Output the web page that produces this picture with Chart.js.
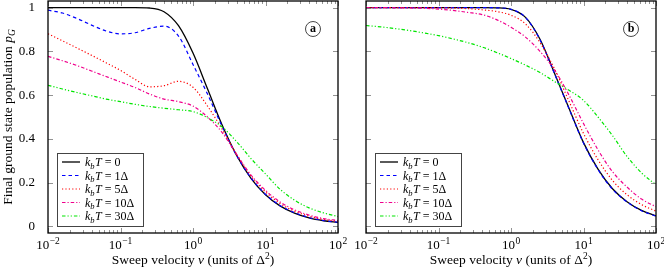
<!DOCTYPE html>
<html>
<head>
<meta charset="utf-8">
<script src="https://cdn.jsdelivr.net/npm/chart.js@4.4.1/dist/chart.umd.min.js"></script>
<style>
  body { margin: 0; background: #fff; }
  #wrap { position: relative; width: 664px; height: 270px; }
  .panel { position: absolute; top: 0; }
</style>
</head>
<body>
<div id="wrap">
  <canvas id="graficoA" class="panel" style="left:0" width="352" height="270"></canvas>
  <canvas id="graficoB" class="panel" style="left:342px" width="322" height="270"></canvas>
</div>
<script>
// velocidad de barrido v (unidades de Delta^2), eje logaritmico
const velocidades = [0.01, 0.01585, 0.02512, 0.03981, 0.0631, 0.1, 0.1585, 0.2512, 0.3981, 0.631,
    1, 1.585, 2.512, 3.981, 6.31, 10, 15.85, 25.12, 39.81, 63.1, 100];

// panel (a)
const a_T0  = [1, 1, 1, 1, 1, 1, 1, 0.998, 0.981, 0.917, 0.792, 0.629, 0.465, 0.326, 0.22, 0.145, 0.094, 0.061, 0.039, 0.026, 0.018];
const a_T1  = [0.988, 0.975, 0.95, 0.92, 0.893, 0.88, 0.885, 0.905, 0.915, 0.87, 0.74, 0.605, 0.458, 0.325, 0.222, 0.147, 0.096, 0.063, 0.041, 0.027, 0.019];
const a_T5  = [0.88, 0.848, 0.815, 0.782, 0.748, 0.713, 0.672, 0.638, 0.643, 0.663, 0.636, 0.55, 0.445, 0.33, 0.23, 0.158, 0.105, 0.07, 0.047, 0.032, 0.024];
const a_T10 = [0.777, 0.757, 0.735, 0.71, 0.685, 0.66, 0.635, 0.605, 0.582, 0.57, 0.55, 0.5, 0.43, 0.33, 0.235, 0.165, 0.112, 0.076, 0.052, 0.036, 0.027];
const a_T30 = [0.645, 0.628, 0.612, 0.597, 0.582, 0.57, 0.558, 0.548, 0.54, 0.533, 0.525, 0.497, 0.455, 0.388, 0.31, 0.24, 0.17, 0.12, 0.085, 0.062, 0.045];

// panel (b)
const b_T0  = [1, 1, 1, 1, 1, 1, 1, 1, 1, 0.999, 0.992, 0.955, 0.855, 0.7, 0.54, 0.383, 0.262, 0.172, 0.113, 0.073, 0.048];
const b_T1  = [1, 1, 1, 1, 1, 1, 1, 1, 1, 0.999, 0.992, 0.955, 0.853, 0.698, 0.538, 0.381, 0.26, 0.17, 0.112, 0.072, 0.047];
const b_T5  = [1, 1, 1, 1, 1, 0.999, 0.998, 0.995, 0.99, 0.982, 0.965, 0.925, 0.84, 0.72, 0.572, 0.425, 0.305, 0.21, 0.145, 0.1, 0.07];
const b_T10 = [1, 1, 0.999, 0.998, 0.997, 0.993, 0.987, 0.978, 0.968, 0.945, 0.91, 0.865, 0.8, 0.715, 0.6, 0.47, 0.35, 0.25, 0.18, 0.125, 0.09];
const b_T30 = [0.918, 0.912, 0.904, 0.895, 0.884, 0.872, 0.857, 0.84, 0.82, 0.795, 0.767, 0.737, 0.703, 0.662, 0.622, 0.576, 0.5, 0.415, 0.32, 0.245, 0.19];

const leyendas = ['0', '1Δ', '5Δ', '10Δ', '30Δ'];
const xTickValues = [0.01, 0.1, 1, 10, 100];
const xTickExponentes = ['−2', '−1', '0', '1', '2'];
const yTickValues = [0, 0.2, 0.4, 0.6, 0.8, 1];
const yTickLabels = ['0', '0.2', '0.4', '0.6', '0.8', '1'];

const SERIF = "'Liberation Serif', 'Times New Roman', serif";

const estilos = [
    { color: '#000000', dash: [], width: 1.3 },
    { color: '#0000ff', dash: [3.5, 3], width: 1.2 },
    { color: '#ff0000', dash: [1.2, 2.2], width: 1.2 },
    { color: '#f0008c', dash: [3.5, 2, 1.2, 2], width: 1.2 },
    { color: '#00e600', dash: [3.5, 2, 1.2, 2, 1.2, 2], width: 1.2 }
];

function esMayor(v) {
    return xTickValues.some(t => Math.abs(t - v) / t < 1e-6);
}

// texto con partes en cursiva / sub / superindice, centrado en x
function textoMixto(ctx, partes, x, y) {
    const fuente = p => (p.it ? 'italic ' : '') + (p.size || 13.5) + 'px ' + SERIF;
    let total = 0;
    partes.forEach(p => { ctx.font = fuente(p); total += ctx.measureText(p.t).width; });
    let cx = x - total / 2;
    partes.forEach(p => {
        ctx.font = fuente(p);
        ctx.fillText(p.t, cx, y + (p.dy || 0));
        cx += ctx.measureText(p.t).width;
    });
}

const marcoPlugin = {
    id: 'marco',
    afterDraw(chart, args, opts) {
        const { ctx, chartArea: a, scales } = chart;
        ctx.save();

        // leyenda
        const lx = a.left + 9, lh = 73, ly = a.bottom - 7 - lh, lw = 86;
        ctx.fillStyle = '#fff';
        ctx.fillRect(lx, ly, lw, lh);
        ctx.strokeStyle = '#444';
        ctx.lineWidth = 1;
        ctx.strokeRect(lx + 0.5, ly + 0.5, lw, lh);
        leyendas.forEach((txt, i) => {
            const yy = ly + 9 + i * 13.5;
            ctx.beginPath();
            ctx.strokeStyle = estilos[i].color;
            ctx.lineWidth = estilos[i].width;
            ctx.setLineDash(estilos[i].dash);
            ctx.moveTo(lx + 5, yy);
            ctx.lineTo(lx + 23, yy);
            ctx.stroke();
            ctx.setLineDash([]);
            ctx.fillStyle = '#000';
            ctx.textAlign = 'left';
            ctx.textBaseline = 'alphabetic';
            let cx = lx + 28;
            const partes = [
                { t: 'k', it: true, size: 12 },
                { t: 'b', it: true, size: 8.5, dy: 2.5 },
                { t: 'T', it: true, size: 12 },
                { t: ' = ' + txt, size: 12 }
            ];
            partes.forEach(p => {
                ctx.font = (p.it ? 'italic ' : '') + p.size + 'px ' + SERIF;
                ctx.fillText(p.t, cx, yy + 4 + (p.dy || 0));
                cx += ctx.measureText(p.t).width + (p.t === 'b' ? 0.5 : 0);
            });
        });

        // marcas de los ejes, hacia dentro
        ctx.strokeStyle = '#777';
        ctx.lineWidth = 0.8;
        scales.x.ticks.forEach(t => {
            const x = Math.round(scales.x.getPixelForValue(t.value)) + 0.5;
            const largo = esMayor(t.value) ? 5 : 3;
            ctx.beginPath();
            ctx.moveTo(x, a.bottom); ctx.lineTo(x, a.bottom - largo);
            ctx.moveTo(x, a.top); ctx.lineTo(x, a.top + largo);
            ctx.stroke();
        });
        scales.y.ticks.forEach(t => {
            const y = Math.round(scales.y.getPixelForValue(t.value)) + 0.5;
            ctx.beginPath();
            ctx.moveTo(a.left, y); ctx.lineTo(a.left + 5, y);
            ctx.moveTo(a.right, y); ctx.lineTo(a.right - 5, y);
            ctx.stroke();
        });

        // marco
        ctx.strokeStyle = '#000';
        ctx.lineWidth = 1.3;
        ctx.strokeRect(a.left, a.top, a.right - a.left, a.bottom - a.top);

        // etiquetas del eje x: 10 con exponente
        ctx.fillStyle = '#000';
        ctx.textAlign = 'left';
        ctx.textBaseline = 'alphabetic';
        xTickValues.forEach((v, i) => {
            const x = scales.x.getPixelForValue(v);
            ctx.font = '13px ' + SERIF;
            const wb = ctx.measureText('10').width;
            ctx.font = '9.5px ' + SERIF;
            const we = ctx.measureText(xTickExponentes[i]).width;
            const x0 = x - (wb + we + 0.5) / 2;
            ctx.font = '13px ' + SERIF;
            ctx.fillText('10', x0, 249);
            ctx.font = '9.5px ' + SERIF;
            ctx.fillText(xTickExponentes[i], x0 + wb + 0.5, 243.5);
        });

        // etiqueta (a) / (b)
        const cxL = a.right - 25, cyL = a.top + 28;
        ctx.beginPath();
        ctx.lineWidth = 0.9;
        ctx.strokeStyle = '#333';
        ctx.arc(cxL, cyL, 7.5, 0, Math.PI * 2);
        ctx.stroke();
        ctx.font = 'bold 12px ' + SERIF;
        ctx.textAlign = 'center';
        ctx.textBaseline = 'middle';
        ctx.fillText(opts.letra, cxL, cyL);

        // titulos de los ejes
        ctx.textAlign = 'left';
        ctx.textBaseline = 'alphabetic';
        textoMixto(ctx, [
            { t: 'Sweep velocity ' }, { t: 'v', it: true }, { t: ' (units of Δ' },
            { t: '2', size: 9.5, dy: -5 }, { t: ')' }
        ], (a.left + a.right) / 2, 264);

        if (opts.tituloY) {
            ctx.translate(12, (a.top + a.bottom) / 2);
            ctx.rotate(-Math.PI / 2);
            textoMixto(ctx, [
                { t: 'Final ground state population ' }, { t: 'p', it: true },
                { t: 'G', it: true, size: 9.5, dy: 2.5 }
            ], 0, 0);
        }
        ctx.restore();
    }
};

function crearPanel(id, series, letra, conEjeY) {
    const ctx = document.getElementById(id).getContext('2d');
    return new Chart(ctx, {
        type: 'line',
        data: {
            datasets: series.map((serie, i) => ({
                label: 'kbT = ' + leyendas[i],
                data: velocidades.map((v, j) => ({ x: v, y: serie[j] })),
                borderColor: estilos[i].color,
                borderDash: estilos[i].dash,
                borderWidth: estilos[i].width,
                pointRadius: 0,
                fill: false,
                cubicInterpolationMode: 'monotone',
                order: series.length - i
            }))
        },
        options: {
            responsive: false,
            animation: false,
            layout: { padding: { top: 1, right: conEjeY ? 14 : 8, left: 0, bottom: 0 } },
            plugins: {
                legend: { display: false },
                tooltip: { enabled: false },
                marco: { letra: letra, tituloY: conEjeY }
            },
            scales: {
                x: {
                    type: 'logarithmic',
                    min: 0.01,
                    max: 100,
                    grid: { display: false },
                    border: { display: false },
                    afterBuildTicks: s => {
                        const ticks = [];
                        [0.01, 0.1, 1, 10].forEach(d => {
                            for (let m = 1; m <= 9; m++) ticks.push({ value: +(m * d).toPrecision(3) });
                        });
                        ticks.push({ value: 100 });
                        s.ticks = ticks;
                    },
                    afterFit: s => { s.height = 37; s.paddingLeft = 0; s.paddingRight = 0; },
                    ticks: { display: false, autoSkip: false }
                },
                y: {
                    min: -0.03,
                    max: 1.03,
                    grid: { display: false },
                    border: { display: false },
                    afterBuildTicks: s => { s.ticks = yTickValues.map(v => ({ value: v })); },
                    afterFit: s => {
                        s.width = conEjeY ? 48 : 24;
                        s.paddingTop = 0;
                        s.paddingBottom = 0;
                    },
                    ticks: {
                        display: conEjeY,
                        padding: 5,
                        color: '#000',
                        font: { family: SERIF, size: 13 },
                        callback: v => {
                            const i = yTickValues.findIndex(t => Math.abs(t - v) < 1e-6);
                            return i >= 0 ? yTickLabels[i] : '';
                        }
                    }
                }
            }
        },
        plugins: [marcoPlugin]
    });
}

const graficos = [
    crearPanel('graficoA', [a_T0, a_T1, a_T5, a_T10, a_T30], 'a', true),
    crearPanel('graficoB', [b_T0, b_T1, b_T5, b_T10, b_T30], 'b', false)
];
if (document.fonts) {
    document.fonts.load('13px "Liberation Serif"').then(() => graficos.forEach(g => g.update()));
}
</script>
</body>
</html>
